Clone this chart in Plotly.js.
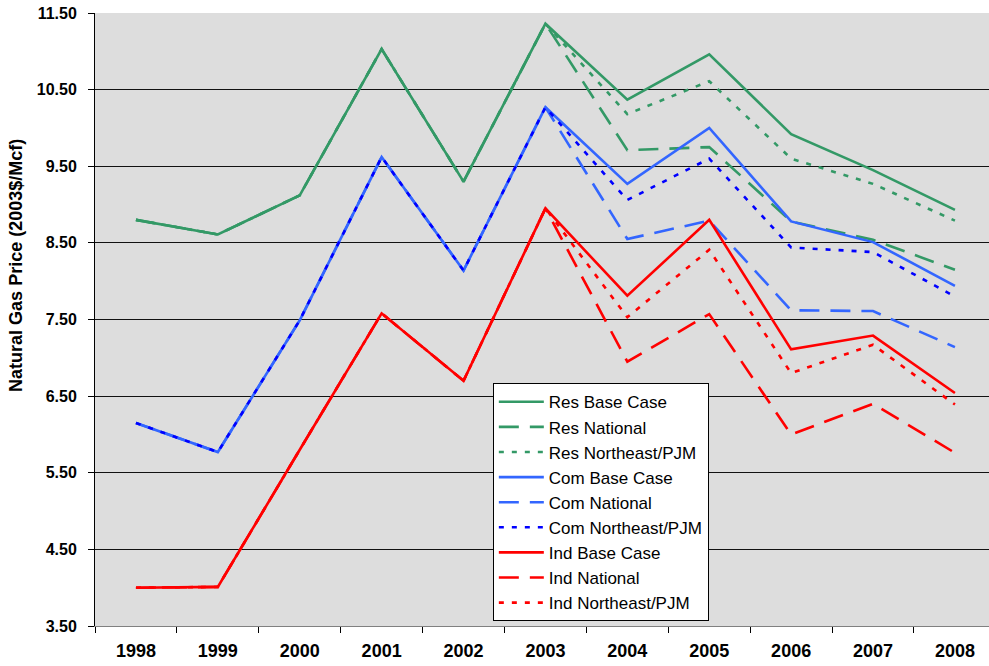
<!DOCTYPE html>
<html>
<head>
<meta charset="utf-8">
<script src="https://cdn.plot.ly/plotly-3.0.1.min.js"></script>
<style>html,body{margin:0;padding:0;background:#fff;}#chart{width:989px;height:666px;}</style>
</head>
<body>
<div id="chart"></div>
<script>
const years = ['1998','1999','2000','2001','2002','2003','2004','2005','2006','2007','2008'];

const resBase     = [8.80, 8.61, 9.12, 11.03, 9.30, 11.36, 10.37, 10.96, 9.92, 9.45, 8.93];
const resNational = [8.80, 8.61, 9.12, 11.03, 9.30, 11.36, 9.71, 9.75, 8.78, 8.54, 8.15];
const resNE       = [8.80, 8.61, 9.12, 11.03, 9.30, 11.36, 10.18, 10.61, 9.60, 9.27, 8.79];

const comBase     = [6.15, 5.77, 7.49, 9.62, 8.14, 10.27, 9.27, 10.00, 8.78, 8.51, 7.94];
const comNational = [6.15, 5.77, 7.49, 9.62, 8.14, 10.27, 8.55, 8.79, 7.62, 7.61, 7.14];
const comNE       = [6.15, 5.77, 7.49, 9.62, 8.14, 10.27, 9.06, 9.60, 8.44, 8.38, 7.80];

const indBase     = [4.00, 4.01, 5.80, 7.58, 6.70, 8.95, 7.81, 8.80, 7.11, 7.29, 6.54];
const indNational = [4.00, 4.01, 5.80, 7.58, 6.70, 8.95, 6.95, 7.57, 6.00, 6.40, 5.76];
const indNE       = [4.00, 4.01, 5.80, 7.58, 6.70, 8.95, 7.53, 8.41, 6.80, 7.17, 6.39];

const seriesNames = ['Res Base Case','Res National','Res Northeast/PJM',
                     'Com Base Case','Com National','Com Northeast/PJM',
                     'Ind Base Case','Ind National','Ind Northeast/PJM'];
const seriesData = [resBase, resNational, resNE, comBase, comNational, comNE, indBase, indNational, indNE];
const seriesColors = ['#339966','#339966','#339966','#3366FF','#3366FF','#0000FF','#FF0000','#FF0000','#FF0000'];
const seriesDash = ['solid','20px,11px','5px,8px','solid','20px,11px','5px,8px','solid','20px,11px','5px,8px'];
const yTitle = 'Natural Gas Price (2003$/Mcf)';

const traces = seriesNames.map((n, i) => ({
  type: 'scatter',
  mode: 'lines',
  name: n,
  x: years,
  y: seriesData[i],
  line: {color: seriesColors[i], width: 2.6, dash: seriesDash[i]},
  hoverinfo: 'skip'
}));

const layout = {
  width: 989,
  height: 666,
  margin: {l: 95, r: 0, t: 13, b: 40, pad: 0},
  paper_bgcolor: '#ffffff',
  plot_bgcolor: '#DDDDDD',
  font: {family: 'Liberation Sans, Arial, sans-serif', color: '#000'},
  showlegend: true,
  legend: {
    x: 0.445, y: 0.396, xanchor: 'left', yanchor: 'top',
    bgcolor: '#ffffff', bordercolor: '#000000', borderwidth: 1,
    font: {family: 'Liberation Sans, Arial, sans-serif', size: 17, color: '#000'},
    itemwidth: 45,
    tracegroupgap: 0
  },
  xaxis: {
    type: 'category',
    categoryarray: years,
    range: [-0.5, 10.416],
    tickson: 'boundaries',
    ticks: 'outside',
    ticklen: 6,
    tickcolor: '#000',
    tickfont: {size: 18, family: 'Liberation Sans, Arial, sans-serif', weight: 'bold'},
    ticklabelstandoff: 8,
    showgrid: false,
    showline: true,
    linecolor: '#808080',
    linewidth: 1,
    zeroline: false,
    fixedrange: true
  },
  yaxis: {
    range: [3.5, 11.5],
    tick0: 3.5,
    dtick: 1,
    tickformat: '.2f',
    ticks: 'outside',
    ticklen: 6,
    tickcolor: '#000',
    tickfont: {size: 16, family: 'Liberation Sans, Arial, sans-serif', weight: 'bold'},
    ticklabelstandoff: 8,
    showgrid: true,
    gridcolor: '#111111',
    gridwidth: 1,
    showline: true,
    linecolor: '#000',
    linewidth: 1,
    zeroline: false,
    fixedrange: true
  },
  annotations: [{
    text: yTitle,
    xref: 'paper', yref: 'paper',
    x: -0.0884, y: 0.589,
    xanchor: 'center', yanchor: 'middle',
    textangle: -90,
    showarrow: false,
    font: {size: 18, family: 'Liberation Sans, Arial, sans-serif', weight: 'bold', color: '#000'}
  }]
};

Plotly.newPlot('chart', traces, layout, {staticPlot: true, displayModeBar: false});
</script>
</body>
</html>
